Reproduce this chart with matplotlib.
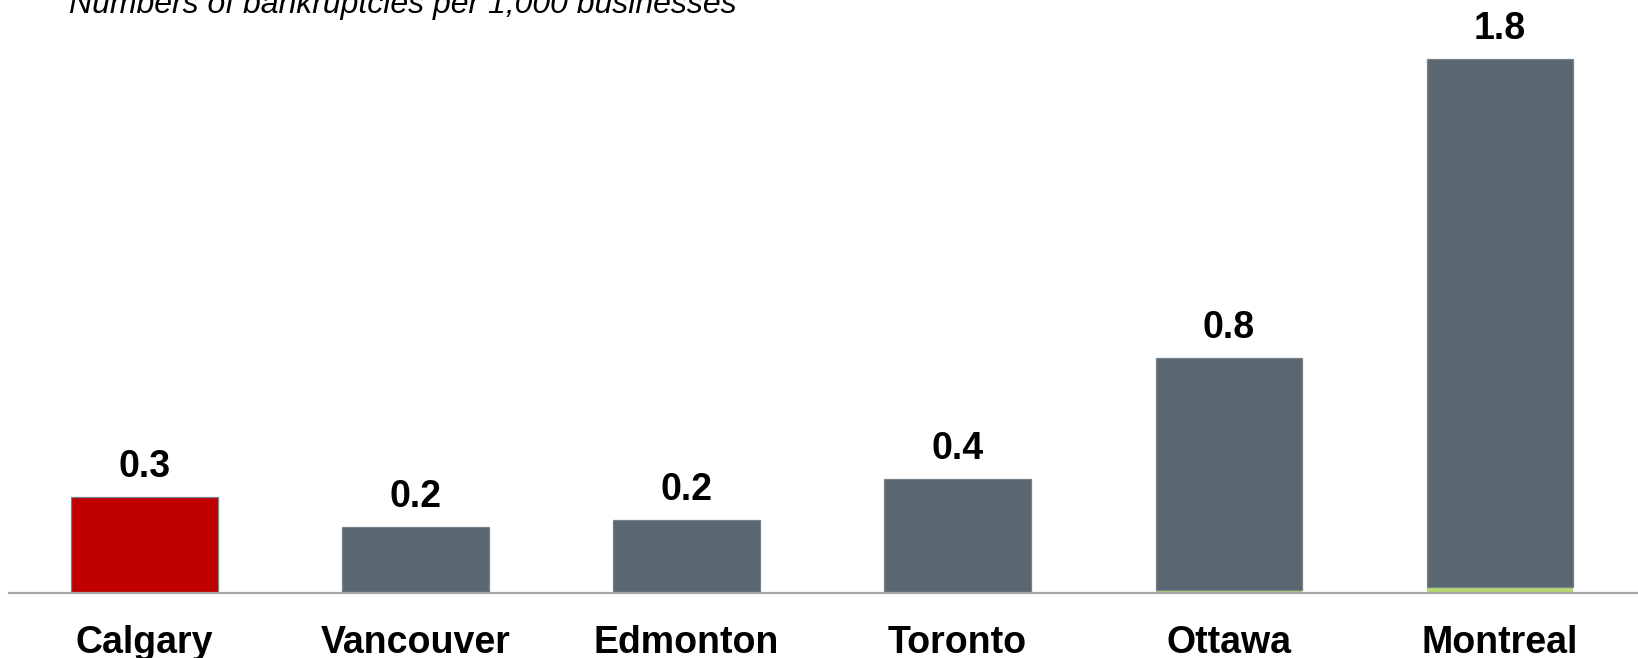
#!/usr/bin/env python3

import matplotlib
matplotlib.use("Agg")
import matplotlib.pyplot as plt

# chart data
CITIES:     list[str]   = ["Calgary", "Vancouver", "Edmonton", "Toronto", "Ottawa", "Montreal"]
TOTALS:     list[float] = [0.324, 0.223, 0.246, 0.386, 0.794, 1.80]
GREEN_PART: list[float] = [0.0, 0.0, 0.0, 0.004, 0.012, 0.020]
LABELS:     list[str]   = ["0.3", "0.2", "0.2", "0.4", "0.8", "1.8"]
HIGHLIGHT:  str         = "Calgary"

SUBTITLE: str = "Numbers of bankruptcies per 1,000 businesses"

GREY:  str = "#5a6670"
RED:   str = "#c00000"
GREEN: str = "#b3d96f"
EDGE:  str = "#77838c"

plt.rcParams["font.family"] = ["Liberation Sans", "DejaVu Sans"]

W, H = 1638, 658
fig = plt.figure(figsize=(W / 100, H / 100), dpi=100)
ax = fig.add_axes([9 / W, 1 - 593.3 / H, 1 - 9 / W, 593.3 / H])

x = list(range(len(CITIES)))
upper = [t - g for t, g in zip(TOTALS, GREEN_PART)]
colors = [RED if c == HIGHLIGHT else GREY for c in CITIES]

ax.bar(x, GREEN_PART, width=0.54, color=GREEN, edgecolor="none", zorder=2)
ax.bar(x, upper, bottom=GREEN_PART, width=0.54, color=colors,
       edgecolor=EDGE, linewidth=0.9, zorder=2)

for xi, total, label in zip(x, TOTALS, LABELS):
    ax.annotate(label, xy=(xi, total), xytext=(0, 14.4), textcoords="offset points",
                ha="center", va="baseline", fontsize=27, fontweight="bold")

ax.set_xlim(-0.5, 5.51)
ax.set_ylim(0, 2.0)
ax.set_yticks([])
ax.set_xticks(x)
ax.set_xticklabels(CITIES, fontsize=27, fontweight="bold")
ax.tick_params(axis="x", length=0, pad=43.2)
for lbl in ax.get_xticklabels():
    lbl.set_va("baseline")

for side in ["top", "left", "right"]:
    ax.spines[side].set_visible(False)
ax.spines["bottom"].set_color("#a6a6a6")
ax.spines["bottom"].set_linewidth(1.6)
ax.spines["bottom"].set_zorder(3)

fig.text(69 / W, 1 - 13.3 / H, SUBTITLE, ha="left", va="baseline",
         fontsize=23, fontstyle="italic", color="black")

fig.savefig("out.png", dpi=100)
plt.close(fig)
